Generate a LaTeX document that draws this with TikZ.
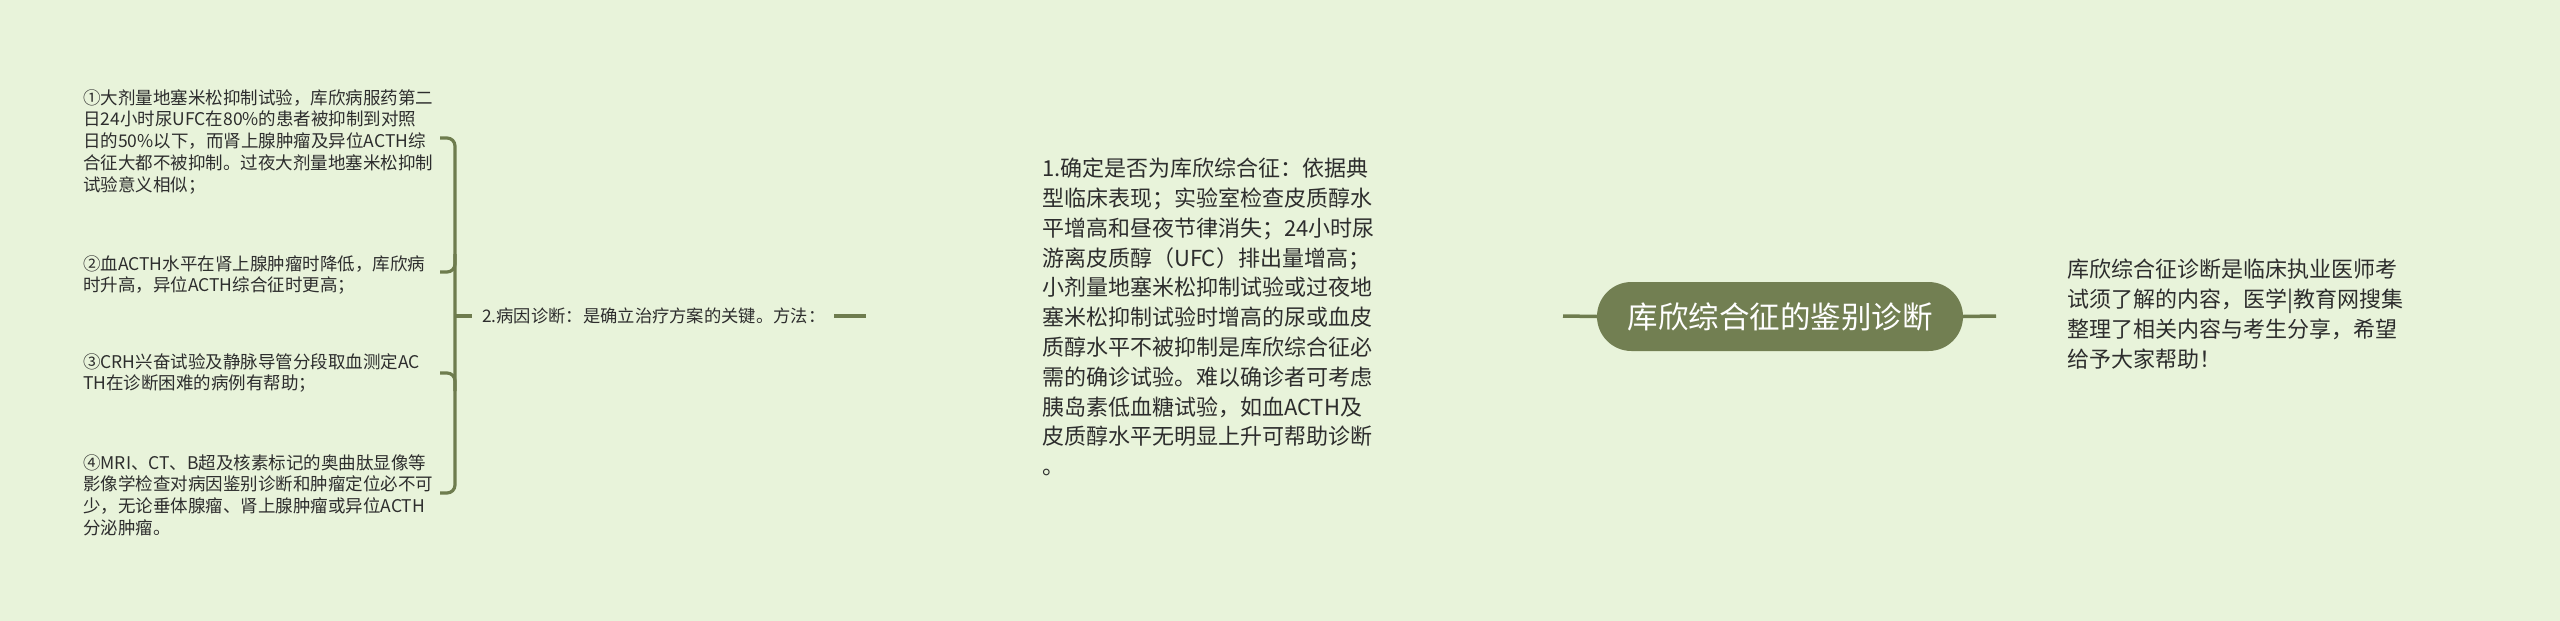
\documentclass[tikz,border=0pt]{standalone}
\usepackage{fontspec}
\setmainfont{Noto Sans CJK SC}
\definecolor{bgc}{RGB}{232,243,218}
\definecolor{nodec}{RGB}{114,127,82}
\definecolor{linec}{RGB}{110,124,78}
\definecolor{textc}{RGB}{45,45,45}
\begin{document}
\begin{tikzpicture}[x=1pt,y=-1pt,
  leaf/.style={anchor=west, inner sep=0pt, align=left, text=textc, font=\fontsize{17.5}{21.75}\selectfont},
  branch/.style={anchor=west, inner sep=0pt, align=left, text=textc, font=\fontsize{17.3}{21}\selectfont},
  mid/.style={anchor=west, inner sep=0pt, align=left, text=textc, font=\fontsize{22}{29.8}\selectfont},
  rootbox/.style={rounded corners=34.5pt, fill=nodec, minimum width=366pt, minimum height=69pt, text=white, font=\fontsize{30.5}{38}\selectfont, inner sep=0pt},
  link/.style={draw=linec, line width=3.5pt},
  brace/.style={draw=linec, line width=3.2pt, rounded corners=8pt}]
\fill[bgc] (0,0) rectangle (2560,621);
\useasboundingbox (0,0) rectangle (2560,621);

\node[rootbox] (root) at (1780,316.5) {库欣综合征的鉴别诊断};
\coordinate (rootL) at (1563,316);
\coordinate (rootR) at (1996,316);
\draw[link] (rootL) -- (root.west);
\draw[link] (root.east) -- (rootR);

\node[mid] (desc) at (2067,314) {库欣综合征诊断是临床执业医师考\\试须了解的内容，医学|教育网搜集\\整理了相关内容与考生分享，希望\\给予大家帮助！};

\node[mid] (one) at (1042,317) {1.确定是否为库欣综合征：依据典\\型临床表现；实验室检查皮质醇水\\平增高和昼夜节律消失；24小时尿\\游离皮质醇（UFC）排出量增高；\\小剂量地塞米松抑制试验或过夜地\\塞米松抑制试验时增高的尿或血皮\\质醇水平不被抑制是库欣综合征必\\需的确诊试验。难以确诊者可考虑\\胰岛素低血糖试验，如血ACTH及\\皮质醇水平无明显上升可帮助诊断\\。};
\coordinate (oneA) at (834,316);
\coordinate (oneB) at (866,316);
\draw[link] (oneA) -- (oneB);

\node[branch] (two) at (482,316) {2.病因诊断：是确立治疗方案的关键。方法：};

\node[leaf] (i1) at (83,141.5) {①大剂量地塞米松抑制试验，库欣病服药第二\\日24小时尿UFC在80\%的患者被抑制到对照\\日的50\%以下，而肾上腺肿瘤及异位ACTH综\\合征大都不被抑制。过夜大剂量地塞米松抑制\\试验意义相似；};
\node[leaf] (i2) at (83,275) {②血ACTH水平在肾上腺肿瘤时降低，库欣病\\时升高，异位ACTH综合征时更高；};
\node[leaf] (i3) at (83,373) {③CRH兴奋试验及静脉导管分段取血测定AC\\TH在诊断困难的病例有帮助；};
\node[leaf] (i4) at (83,495) {④MRI、CT、B超及核素标记的奥曲肽显像等\\影像学检查对病因鉴别诊断和肿瘤定位必不可\\少，无论垂体腺瘤、肾上腺肿瘤或异位ACTH\\分泌肿瘤。};

\coordinate (h1) at (440,138);
\coordinate (h2) at (440,272);
\coordinate (h3) at (440,373);
\coordinate (h4) at (440,493);
\coordinate (sp) at (455,316);
\draw[brace] (h1) -- (h1 -| sp) -- (h4 -| sp) -- (h4);
\draw[brace] (h2) -- (h2 -| sp) -- ([yshift=18pt]h2 -| sp);
\draw[brace] (h3) -- (h3 -| sp) -- ([yshift=-18pt]h3 -| sp);
\draw[brace, rounded corners=0pt] (sp) -- (two.west -| 472,0);
\end{tikzpicture}
\end{document}
